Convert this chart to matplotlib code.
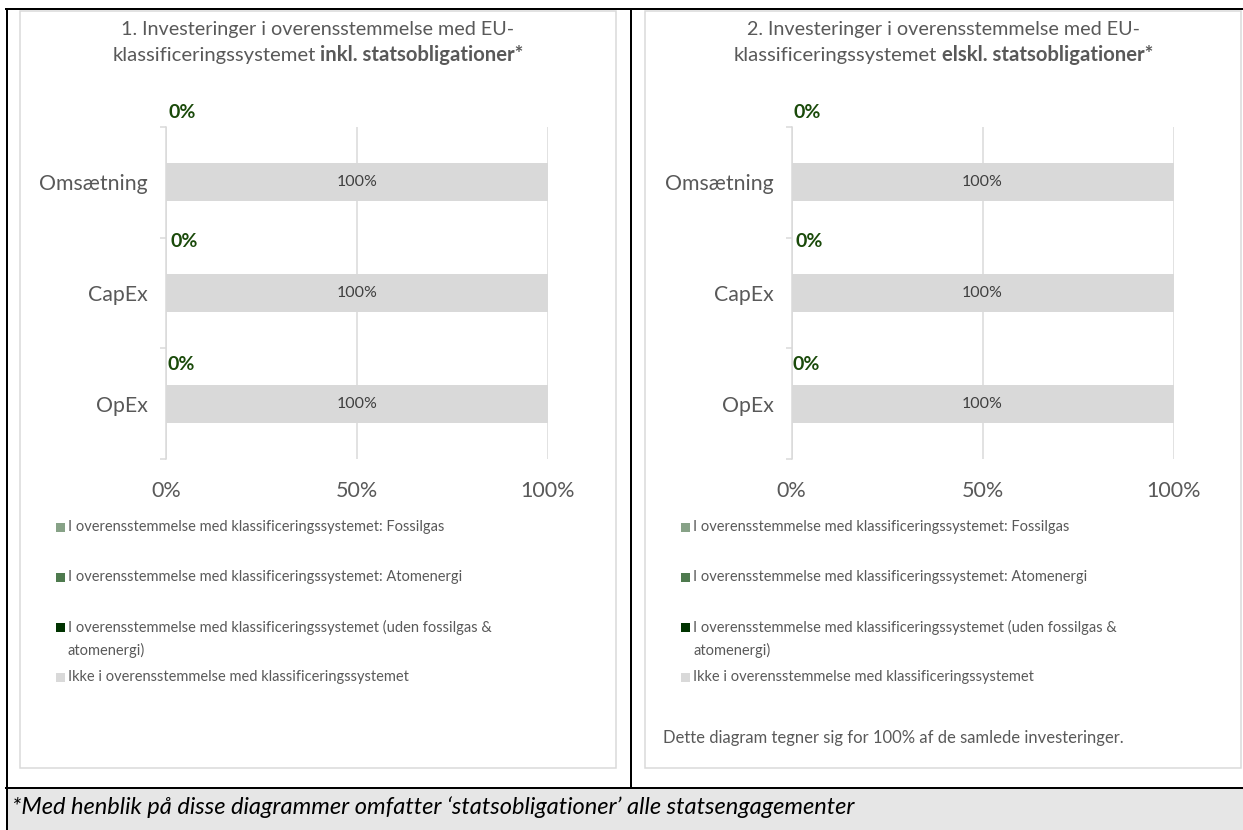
import matplotlib.pyplot as plt
from matplotlib.patches import Rectangle
from matplotlib.offsetbox import TextArea, HPacker, AnnotationBbox

#CONFIGURACION
plt.rcParams['font.family'] = ['Lato', 'DejaVu Sans']

W, H = 1243, 830

#datos
categories = ["Omsætning", "CapEx", "OpEx"]
series_labels = [
    "I overensstemmelse med klassificeringssystemet: Fossilgas",
    "I overensstemmelse med klassificeringssystemet: Atomenergi",
    "I overensstemmelse med klassificeringssystemet (uden fossilgas &\natomenergi)",
    "Ikke i overensstemmelse med klassificeringssystemet",
]
series_colors = ["#87a287", "#4e7a4e", "#003300", "#d9d9d9"]

#panel 1: inkl. statsobligationer
fossilgas_incl = [0, 0, 0]
atomenergi_incl = [0, 0, 0]
uden_incl = [0, 0, 0]
ikke_incl = [100, 100, 100]

#panel 2: ekskl. statsobligationer
fossilgas_excl = [0, 0, 0]
atomenergi_excl = [0, 0, 0]
uden_excl = [0, 0, 0]
ikke_excl = [100, 100, 100]

#grønne etiketter (samlet i overensstemmelse)
aligned_incl = [0, 0, 0]
aligned_excl = [0, 0, 0]

x_ticks = [0, 50, 100]
x_tick_labels = ["0%", "50%", "100%"]

titles_first = ["1. Investeringer i overensstemmelse med EU-",
                "2. Investeringer i overensstemmelse med EU-"]
titles_second = "klassificeringssystemet"
titles_bold = ["inkl. statsobligationer*", "elskl. statsobligationer*"]
note_text = "Dette diagram tegner sig for 100% af de samlede investeringer."
footer_text = "*Med henblik på disse diagrammer omfatter \u2018statsobligationer\u2019 alle statsengagementer"

#estilo
GRAY_TXT = "#595959"
GRID = "#d9d9d9"
GREEN_LBL = "#1a4a0a"
PX = 72 / 100  # puntos por pixel


def fig_rect(l, t, r, b):
    return [l / W, 1 - b / H, (r - l) / W, (b - t) / H]


def draw_panel(fig, bg, dx, idx, series, aligned, note=None):
    #caja gris del panel
    bg.add_patch(Rectangle((20 + dx, 11), 596, 757, fill=False,
                           edgecolor=GRID, lw=1.5 * PX))

    cx = 318 + dx
    bg.text(cx, 30, titles_first[idx], ha="center", va="center",
            fontsize=14.2, color=GRAY_TXT)
    box = HPacker(children=[
        TextArea(titles_second, textprops=dict(fontsize=14.6, color=GRAY_TXT)),
        TextArea(titles_bold[idx], textprops=dict(fontsize=14.6, color=GRAY_TXT, fontweight="bold")),
    ], align="baseline", pad=0, sep=3)
    bg.add_artist(AnnotationBbox(box, (cx, 55), xycoords="data", frameon=False,
                                 box_alignment=(0.5, 0.5)))

    ax = fig.add_axes(fig_rect(166 + dx, 127, 548 + dx, 459))
    y = list(range(len(categories)))
    left = [0] * len(categories)
    last = None
    for vals, color in zip(series, series_colors):
        last = ax.barh(y, vals, left=left, height=0.343, color=color, zorder=2)
        left = [a + b for a, b in zip(left, vals)]
    ax.bar_label(last, labels=[f"{v}%" for v in series[-1]], label_type="center",
                 color="#404040", fontsize=11.5)

    offsets = [(16, 70), (18, 52), (15, 39)]
    for i, v in enumerate(aligned):
        ax.annotate(f"{v}%", xy=(0, i), xytext=offsets[i], textcoords="offset pixels",
                    ha="center", va="center", fontweight="bold", fontsize=14,
                    color=GREEN_LBL, annotation_clip=False)

    ax.set_xlim(0, 100)
    ax.set_ylim(len(categories) - 0.5, -0.5)
    ax.set_xticks(x_ticks, x_tick_labels)
    ax.set_yticks(y, categories)
    ax.set_yticks([i - 0.5 for i in range(len(categories) + 1)], minor=True)
    ax.tick_params(axis="x", length=0, pad=16, labelsize=15.5, labelcolor=GRAY_TXT)
    ax.tick_params(axis="y", which="major", length=0, pad=13, labelsize=15.3,
                   labelcolor=GRAY_TXT)
    ax.tick_params(axis="y", which="minor", length=6 * PX, width=1.5 * PX, color=GRID)
    for s in ["top", "right", "bottom"]:
        ax.spines[s].set_visible(False)
    ax.spines["left"].set_color(GRID)
    ax.spines["left"].set_linewidth(1.5 * PX)
    ax.xaxis.grid(True, color=GRID, lw=1.5 * PX, zorder=0)
    ax.set_axisbelow(True)
    ax.set_facecolor("none")

    #leyenda manual
    rows = [527, 577, 627, 677]
    for lab, color, ry in zip(series_labels, series_colors, rows):
        bg.add_patch(Rectangle((56 + dx, ry - 4.5), 9, 9, color=color, lw=0))
        for k, line in enumerate(lab.split("\n")):
            bg.text(68 + dx, ry + 23 * k, line, ha="left", va="center",
                    fontsize=10.5, color=GRAY_TXT)

    if note:
        bg.text(663, 738, note, ha="left", va="center", fontsize=12, color=GRAY_TXT)


def main():
    fig = plt.figure(figsize=(W / 100, H / 100), dpi=100)
    bg = fig.add_axes([0, 0, 1, 1])
    bg.set_xlim(0, W)
    bg.set_ylim(H, 0)
    bg.axis("off")

    #pie de página gris
    bg.add_patch(Rectangle((7, 788), W - 7, H - 788, color="#e6e6e6", lw=0))
    bg.text(12, 807, footer_text, ha="left", va="center", style="italic",
            fontsize=17, color="black")

    #marco negro de la tabla
    lw = 2 * PX
    bg.plot([6, W], [9.5, 9.5], color="black", lw=lw)
    bg.plot([7, 7], [9.5, H], color="black", lw=lw)
    bg.plot([631.5, 631.5], [9.5, 788], color="black", lw=lw)
    bg.plot([6, W], [788, 788], color="black", lw=lw)

    draw_panel(fig, bg, 0, 0,
               [fossilgas_incl, atomenergi_incl, uden_incl, ikke_incl], aligned_incl)
    draw_panel(fig, bg, 625.5, 1,
               [fossilgas_excl, atomenergi_excl, uden_excl, ikke_excl], aligned_excl,
               note=note_text)

    fig.savefig("out.png", dpi=100)
    plt.close(fig)


if __name__ == "__main__":
    main()
